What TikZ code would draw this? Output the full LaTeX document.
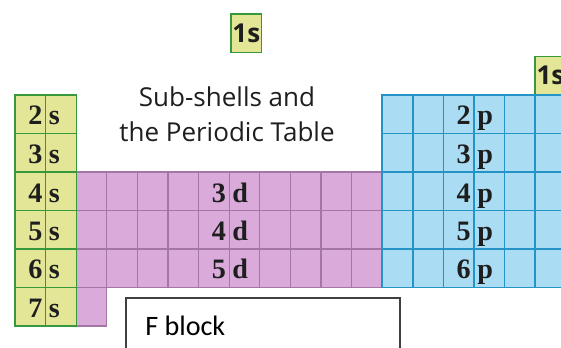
\documentclass[tikz,border=0pt]{standalone}
\usepackage{fontspec}
\setmainfont{Liberation Serif}
\setsansfont{Open Sans}
\newfontfamily\calibri{Carlito}
\usepackage{tikz}
\usetikzlibrary{positioning}

\definecolor{sfill}{RGB}{226,230,150}
\definecolor{sline}{RGB}{56,152,60}
\definecolor{dfill}{RGB}{218,170,218}
\definecolor{dline}{RGB}{164,118,166}
\definecolor{pfill}{RGB}{170,221,244}
\definecolor{pline}{RGB}{36,148,198}
\definecolor{ink}{RGB}{30,30,30}

\newcommand{\colw}{30.6}
\newcommand{\rowh}{38.5}

\begin{document}
\begin{tikzpicture}[x=0.025cm, y=-0.025cm,
    cell/.style={rectangle, anchor=north west, inner sep=0pt, outer sep=0pt, minimum width=0.765cm, minimum height=0.9625cm, line width=1pt},
    sbox/.style={cell, fill=sfill, draw=sline},
    dbox/.style={cell, fill=dfill, draw=dline, line width=0.8pt},
    pbox/.style={cell, fill=pfill, draw=pline},
    onebox/.style={sbox, text=ink, font=\sffamily\bfseries\fontsize{18.5}{18.5}\selectfont},
    num/.style={inner sep=0pt, anchor=base east, text=ink, font=\fontsize{20}{20}\selectfont\bfseries},
    orb/.style={num, anchor=base west},
    title/.style={align=center, inner sep=0pt, anchor=north, text=ink, font=\sffamily\fontsize{18.5}{25}\selectfont},
    fbox/.style={rectangle, anchor=north west, draw=black!75, fill=white, line width=1.2pt, minimum width=6.85cm, minimum height=1.6cm}
]
\useasboundingbox (0,0) rectangle (561,348);
\clip (0,0) rectangle (561,348);

\foreach \r in {4,5,6}
  \foreach \k in {2,...,11}
    \node[dbox] (d-\r-\k) at ({15+\k*\colw},{95+(\r-2)*\rowh}) {};
\node[dbox] (d-7-2) at ({15+2*\colw},{95+5*\rowh}) {};
\foreach \r in {2,...,7}
  \foreach \k in {0,1}
    \node[sbox] (s-\r-\k) at ({15+\k*\colw},{95+(\r-2)*\rowh}) {};
\node[onebox] (he) at ({15+17*\colw},{95-\rowh}) {1s};
\foreach \r in {2,...,6}
  \foreach \k in {12,...,17}
    \node[pbox] (p-\r-\k) at ({15+\k*\colw},{95+(\r-2)*\rowh}) {};
\node[onebox] (h) at (231,14) {1s};

\foreach \r in {2,...,7} {
  \node[num] (ns\r) at ({15+\colw-3},{125+(\r-2)*\rowh}) {\r};
  \node[orb] (ls\r) at ({15+\colw+3},{125+(\r-2)*\rowh}) {s};
}
\foreach \r/\n in {4/3,5/4,6/5} {
  \node[num] (nd\n) at ({15+7*\colw-3},{125+(\r-2)*\rowh}) {\n};
  \node[orb] (ld\n) at ({15+7*\colw+3},{125+(\r-2)*\rowh}) {d};
}
\foreach \r in {2,...,6} {
  \node[num] (np\r) at ({15+15*\colw-3},{125+(\r-2)*\rowh}) {\r};
  \node[orb] (lp\r) at ({15+15*\colw+3},{125+(\r-2)*\rowh}) {p};
}

\node[title] (title) at (227,86) {Sub-shells and\\the Periodic Table};

\node[fbox] (fblock) at (125,297) {};
\node[anchor=base west, inner sep=0pt, text=black, font=\calibri\fontsize{20}{20}\selectfont] (ftext) at (145,335) {F block};
\end{tikzpicture}
\end{document}
